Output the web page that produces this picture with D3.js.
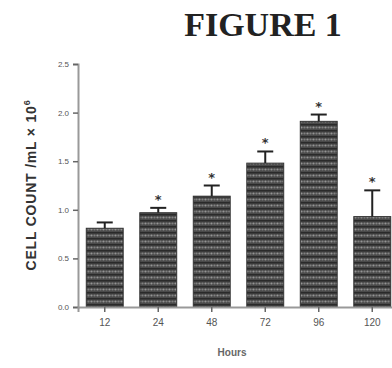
<!DOCTYPE html>
<html>
<head>
<meta charset="utf-8">
<script src="https://cdn.jsdelivr.net/npm/d3@7"></script>
<style>
  body { margin: 0; background: #fff; }
  svg { display: block; }
</style>
</head>
<body>
<div id="canvas"></div>
<script>
// categories and values
const hours = ["12", "24", "48", "72", "96", "120"];
const cellCount = [0.81, 0.97, 1.14, 1.48, 1.91, 0.93];
const errorUp = [0.06, 0.05, 0.11, 0.12, 0.07, 0.27];
const significant = [false, true, true, true, true, true];
const yTicks = [0.0, 0.5, 1.0, 1.5, 2.0, 2.5];

const W = 392, H = 368;
const margin = {top: 64, right: -7, bottom: 61, left: 78},
    width = W - margin.left - margin.right,
    height = H - margin.top - margin.bottom;

const svg = d3.select("#canvas")
    .append("svg")
    .attr("width", W)
    .attr("height", H);

// hatch-like fill for the bars
const defs = svg.append("defs");
const pat = defs.append("pattern")
    .attr("id", "barFill")
    .attr("patternUnits", "userSpaceOnUse")
    .attr("width", 6)
    .attr("height", 6);
pat.append("rect").attr("width", 6).attr("height", 6).attr("fill", "#4a4a4a");
pat.append("rect").attr("x", 0).attr("y", 0).attr("width", 6).attr("height", 1.5).attr("fill", "#2a2a2a");
pat.append("circle").attr("cx", 1.5).attr("cy", 3.5).attr("r", 1.1).attr("fill", "#949494");
pat.append("circle").attr("cx", 4.5).attr("cy", 3.5).attr("r", 1.1).attr("fill", "#808080");

const g = svg.append("g")
    .attr("transform", "translate(" + margin.left + "," + margin.top + ")");

const x = d3.scaleBand()
    .domain(hours)
    .range([0, width])
    .paddingInner(0.31)
    .paddingOuter(0.155);

const y = d3.scaleLinear()
    .domain([0, 2.5])
    .range([height, 0]);

// bars
g.selectAll(".bar")
    .data(hours)
    .enter()
    .append("rect")
    .attr("x", d => x(d))
    .attr("y", (d, i) => y(cellCount[i]))
    .attr("width", x.bandwidth())
    .attr("height", (d, i) => y(0) - y(cellCount[i]))
    .attr("fill", "url(#barFill)")
    .attr("stroke", "#333")
    .attr("stroke-width", 1);

// error bars (upper only)
const eb = g.selectAll(".err")
    .data(hours)
    .enter()
    .append("g");
eb.append("line")
    .attr("x1", d => x(d) + x.bandwidth() / 2)
    .attr("x2", d => x(d) + x.bandwidth() / 2)
    .attr("y1", (d, i) => y(cellCount[i]))
    .attr("y2", (d, i) => y(cellCount[i] + errorUp[i]))
    .attr("stroke", "#222")
    .attr("stroke-width", 2);
eb.append("line")
    .attr("x1", d => x(d) + x.bandwidth() / 2 - 8)
    .attr("x2", d => x(d) + x.bandwidth() / 2 + 8)
    .attr("y1", (d, i) => y(cellCount[i] + errorUp[i]))
    .attr("y2", (d, i) => y(cellCount[i] + errorUp[i]))
    .attr("stroke", "#222")
    .attr("stroke-width", 2);

// asterisks
g.selectAll(".star")
    .data(hours.filter((d, i) => significant[i]))
    .enter()
    .append("text")
    .attr("x", d => x(d) + x.bandwidth() / 2)
    .attr("y", d => { const i = hours.indexOf(d); return y(cellCount[i] + errorUp[i]) - 4; })
    .attr("text-anchor", "middle")
    .style("font-family", "DejaVu Sans, sans-serif")
    .style("font-weight", "bold")
    .style("font-size", "13px")
    .attr("fill", "#333")
    .text("*");

// axes
const yAxis = g.append("g")
    .call(d3.axisLeft(y).tickValues(yTicks).tickFormat(d3.format(".1f")).tickSize(5));
const xAxis = g.append("g")
    .attr("transform", "translate(0," + height + ")")
    .call(d3.axisBottom(x).tickSize(5));

[yAxis, xAxis].forEach(a => {
    a.select(".domain").attr("stroke", "#999").attr("stroke-width", 2);
    a.selectAll(".tick line").attr("stroke", "#666").attr("stroke-width", 1.5);
    a.selectAll("text")
        .style("font-family", "Liberation Sans, Arial, sans-serif")
        .style("font-size", "8px")
        .attr("fill", "#555");
});
xAxis.selectAll("text").style("font-size", "10px").attr("dy", "1.1em");
yAxis.selectAll("text").attr("dx", "-1px");

// title
svg.append("text")
    .attr("x", 263)
    .attr("y", 36)
    .attr("text-anchor", "middle")
    .style("font-family", "Liberation Serif, Times New Roman, serif")
    .style("font-weight", "bold")
    .style("font-size", "34px")
    .attr("fill", "#222")
    .text("FIGURE 1");

// axis titles
const yTitle = svg.append("text")
    .attr("transform", "translate(36," + 185 + ") rotate(-90)")
    .attr("text-anchor", "middle")
    .style("font-family", "Liberation Sans, Arial, sans-serif")
    .style("font-weight", "bold")
    .style("font-size", "14px")
    .style("letter-spacing", "0.8px")
    .attr("fill", "#333");
yTitle.append("tspan").text("CELL COUNT /mL \u00d7 10");
yTitle.append("tspan").attr("dy", "-6").style("font-size", "9px").text("6");

svg.append("text")
    .attr("x", 232)
    .attr("y", 356)
    .attr("text-anchor", "middle")
    .style("font-family", "Liberation Sans, Arial, sans-serif")
    .style("font-weight", "bold")
    .style("font-size", "10px")
    .attr("fill", "#666")
    .text("Hours");
</script>
</body>
</html>
